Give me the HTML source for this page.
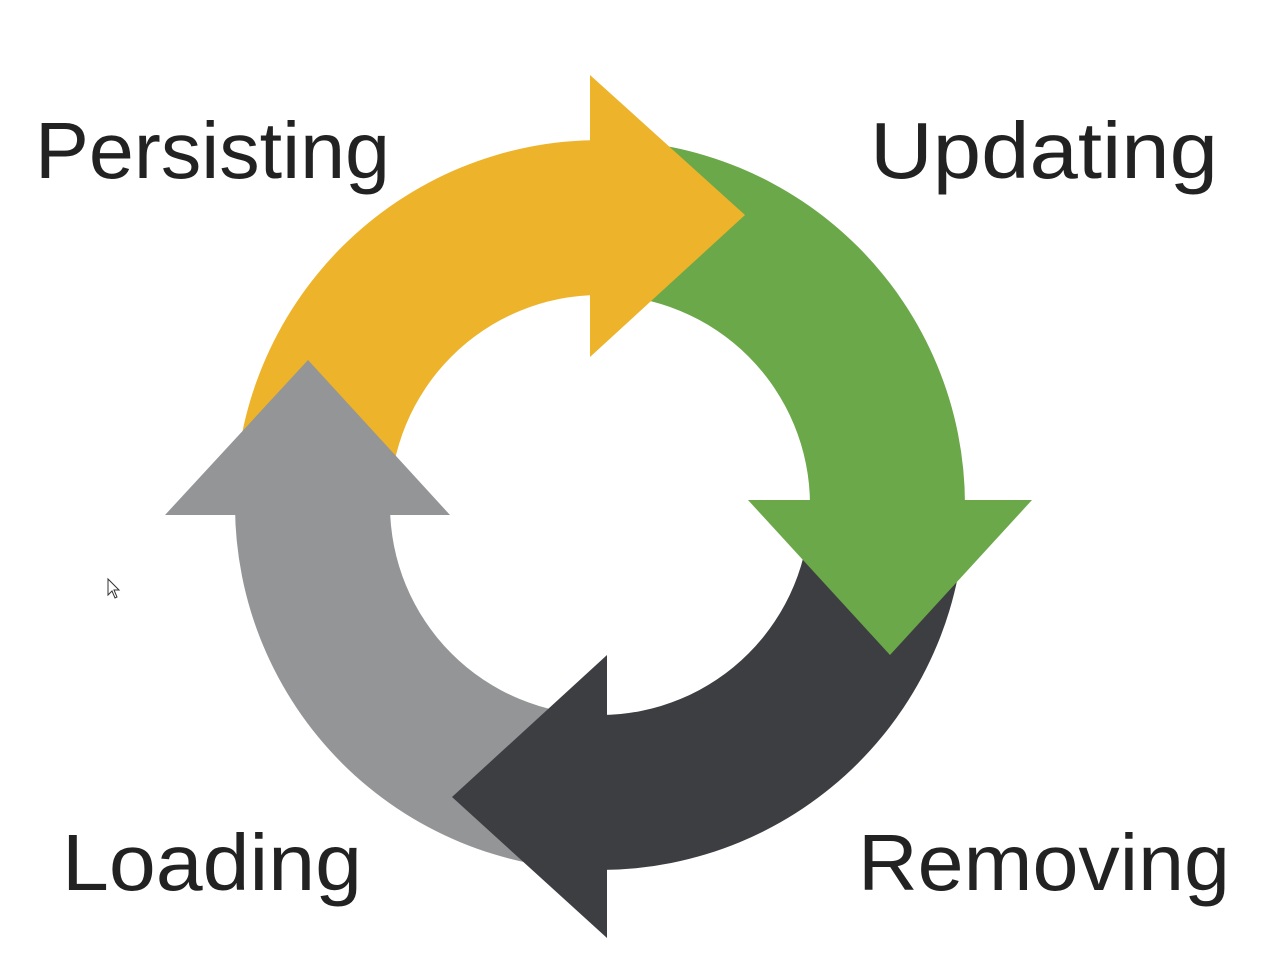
<!DOCTYPE html>
<html><head><style>
html,body{margin:0;padding:0;background:#fff;}
</style></head><body>
<svg width="1262" height="975" viewBox="0 0 1262 975" xmlns="http://www.w3.org/2000/svg">
<rect width="1262" height="975" fill="#fff"/>
<path d="M235,505 A365,365 0 0 1 600,140 L600,295 A210,210 0 0 0 390,505 Z" fill="#EDB32B"/>
<path d="M600,140 A365,365 0 0 1 965,505 L810,505 A210,210 0 0 0 600,295 Z" fill="#6BA849"/>
<path d="M965,505 A365,365 0 0 1 600,870 L600,715 A210,210 0 0 0 810,505 Z" fill="#3D3E42"/>
<path d="M600,870 A365,365 0 0 1 235,505 L390,505 A210,210 0 0 0 600,715 Z" fill="#939597"/>
<polygon points="590,75 745,215 590,357" fill="#EDB32B"/>
<polygon points="748,500 1032,500 890,655" fill="#6BA849"/>
<polygon points="607,655 452,797 607,938" fill="#3D3E42"/>
<polygon points="165,515 450,515 308,360" fill="#939597"/>
<polygon points="108,579 108,595 112,591 115,598 117,597 114,590 119,590" fill="#fff" stroke="#333" stroke-width="1"/>
<g font-family="Liberation Sans, sans-serif" font-size="80" fill="#222">
<text x="35" y="178" textLength="355" lengthAdjust="spacingAndGlyphs">Persisting</text>
<text x="870" y="178" textLength="348" lengthAdjust="spacingAndGlyphs">Updating</text>
<text x="62" y="890" textLength="300" lengthAdjust="spacingAndGlyphs">Loading</text>
<text x="858" y="890" textLength="372" lengthAdjust="spacingAndGlyphs">Removing</text>
</g>
</svg>
</body></html>
